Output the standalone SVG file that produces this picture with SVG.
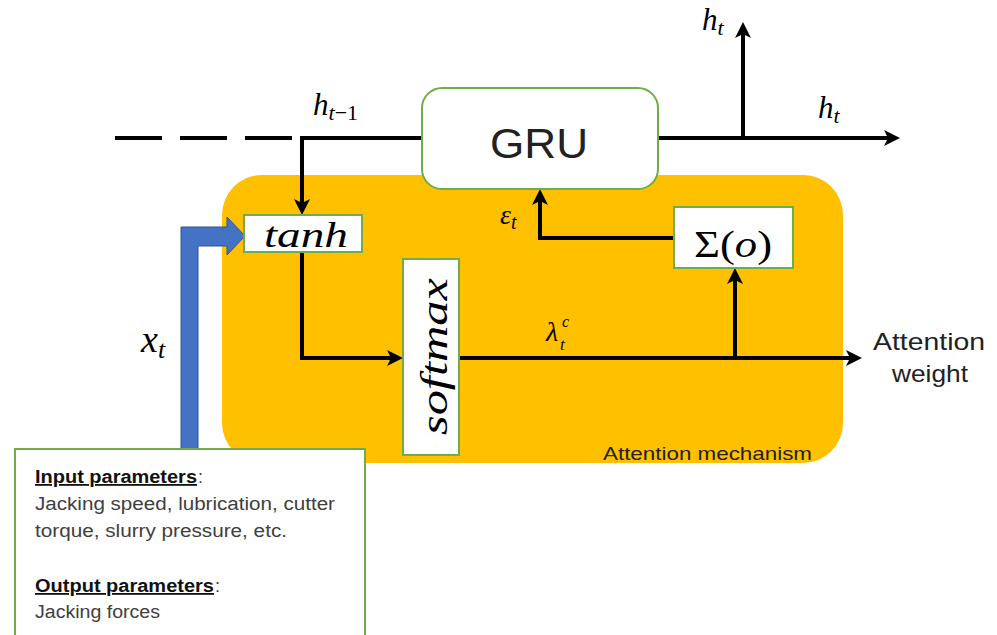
<svg xmlns="http://www.w3.org/2000/svg" width="997" height="635" viewBox="0 0 997 635">
<style>
.box{fill:#fff;stroke:#70AD47;stroke-width:2}
.ln{fill:none;stroke:#000;stroke-width:4}
.m{font-family:"Liberation Serif","DejaVu Serif",serif;font-style:italic;fill:#000}
.up{font-style:normal}
.s{font-family:"Liberation Sans",Arial,sans-serif;fill:#222}
.p{font-family:"Liberation Sans",Arial,sans-serif;fill:#404040;font-size:18px}
.b{font-weight:bold;fill:#111;text-decoration:underline}
</style>
<defs>
<marker id="ah" viewBox="0 0 16 16" markerWidth="16" markerHeight="16" refX="12" refY="8" orient="auto" markerUnits="userSpaceOnUse">
<path d="M0,0 L16,8 L0,16 L4,8 Z" fill="#000"/>
</marker>
</defs>
<rect id="attention-bg" x="222" y="175" width="621" height="288" rx="40" fill="#FFC000"/>
<text class="s" x="603" y="460" font-size="19" textLength="209" lengthAdjust="spacingAndGlyphs">Attention mechanism</text>

<g id="connectors">
<path class="ln" d="M115,138 H300" stroke-dasharray="47 18"/>
<path class="ln" d="M422,138 H302 V211" marker-end="url(#ah)"/>
<path class="ln" d="M302,252 V358 H399" marker-end="url(#ah)"/>
<path class="ln" d="M459,358 H858" marker-end="url(#ah)"/>
<path class="ln" d="M735,358 V272" marker-end="url(#ah)"/>
<path class="ln" d="M674,238 H540 V193" marker-end="url(#ah)"/>
<path class="ln" d="M658,138 H896" marker-end="url(#ah)"/>
<path class="ln" d="M743,138 V26" marker-end="url(#ah)"/>
<path id="xt-arrow" d="M181,452 V227 H227 V217 L245,236 L227,255 V246 H198 V452 Z" fill="#4472C4" stroke="#2F5597" stroke-width="1"/>
</g>

<g id="labels">
<text class="m" x="313" y="115" font-size="31">h<tspan font-size="22" dy="5">t</tspan><tspan class="up" font-size="22">−1</tspan></text>
<text class="m" x="702" y="30" font-size="31">h<tspan font-size="22" dy="5">t</tspan></text>
<text class="m" x="818" y="118" font-size="31">h<tspan font-size="22" dy="5">t</tspan></text>
<text class="m" x="500" y="224" font-size="28">ε<tspan font-size="20" dy="5">t</tspan></text>
<text class="m" x="546" y="341" font-size="28">λ</text>
<text class="m" x="562" y="327" font-size="16">c</text>
<text class="m" x="560" y="350" font-size="17">t</text>
<text class="m" x="141" y="352" font-size="38">x<tspan font-size="26" dy="6">t</tspan></text>
<text class="s" x="873" y="350" font-size="24" textLength="112" lengthAdjust="spacingAndGlyphs">Attention</text>
<text class="s" x="892" y="382" font-size="24" textLength="76" lengthAdjust="spacingAndGlyphs">weight</text>
</g>

<g id="gru">
<rect class="box" x="422" y="88" width="236" height="101" rx="20"/>
<text class="s" x="490" y="158" font-size="43" fill="#000" textLength="98" lengthAdjust="spacingAndGlyphs">GRU</text>
</g>

<g id="tanh">
<rect class="box" x="244" y="215" width="118" height="37"/>
<text class="m" x="264" y="247" font-size="36" textLength="84" lengthAdjust="spacingAndGlyphs">tanh</text>
</g>

<g id="softmax">
<rect class="box" x="403" y="259" width="56" height="196"/>
<text class="m" transform="translate(447,435) rotate(-90)" x="0" y="0" font-size="38" textLength="157" lengthAdjust="spacingAndGlyphs">softmax</text>
</g>

<g id="sum">
<rect class="box" x="674" y="207" width="119" height="61"/>
<text class="m" x="694" y="257" font-size="38" textLength="78" lengthAdjust="spacingAndGlyphs"><tspan class="up">Σ(</tspan>o<tspan class="up">)</tspan></text>
</g>

<g id="params">
<rect class="box" x="15" y="449" width="350" height="200"/>
<text class="p b" x="35" y="483" textLength="162" lengthAdjust="spacingAndGlyphs">Input parameters</text>
<text class="p" x="198" y="483">:</text>
<text class="p" x="35" y="510" textLength="300" lengthAdjust="spacingAndGlyphs">Jacking speed, lubrication, cutter</text>
<text class="p" x="35" y="537" textLength="252" lengthAdjust="spacingAndGlyphs">torque, slurry pressure, etc.</text>
<text class="p b" x="35" y="592" textLength="179" lengthAdjust="spacingAndGlyphs">Output parameters</text>
<text class="p" x="215" y="592">:</text>
<text class="p" x="35" y="618" textLength="125" lengthAdjust="spacingAndGlyphs">Jacking forces</text>
</g>
</svg>
